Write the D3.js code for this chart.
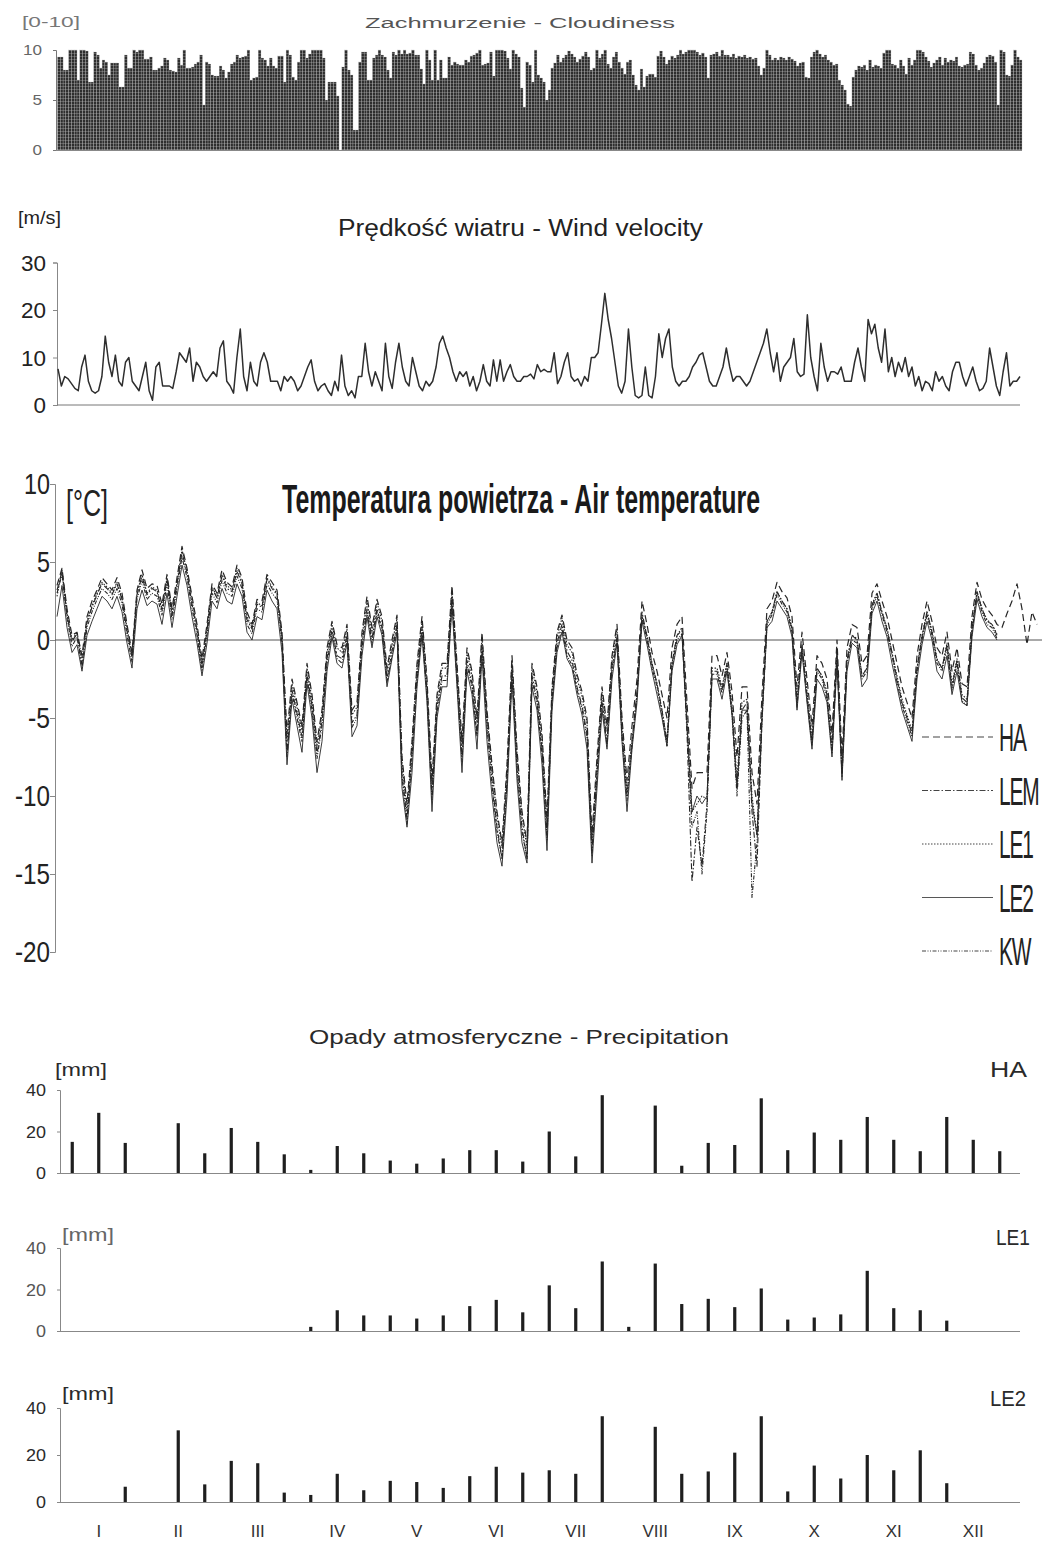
<!DOCTYPE html>
<html><head><meta charset="utf-8">
<script src="https://cdn.jsdelivr.net/npm/d3@7"></script>
<style>body{margin:0;background:#fff}svg{display:block;background:#fff}</style>
</head><body>
<svg id="chart" width="1049" height="1541"></svg>
<script>
// ---------------- DATA ----------------
const cloudTicks = [0, 5, 10];
const cloudiness = [
9.3,9.3,8.0,8.0,10,10,10,7,10,
10,9.9,6.8,6.8,9.8,9.5,8.2,9.0,8.8,7.5,
8.7,8.7,8.7,6.3,6.3,9.5,8.2,8.2,10,
9.8,10,10,9.1,9.1,9.3,8.0,8.0,8.2,8.4,
9.2,9.0,8.0,7.9,7.8,9.2,8.5,10,8.2,
8.2,8.3,8.6,8.8,9.5,4.5,8.8,8.6,7.5,
7.4,7.4,8.4,8.0,7.2,7.8,8.6,8.8,9.5,9.2,
9.3,9.4,10,7.0,7.2,7.3,10,9.2,9.0,8.4,
9.2,8.4,8.2,9.4,9.4,6.8,10,9.5,7.3,7.0,
8.8,10,10,9.2,9.6,10,10,10,10,9.2,
5.0,6.8,6.8,6.8,5.4,0,8.3,10,8.0,7.5,
2.0,2.0,8.8,9.8,9.8,7.0,7.0,9.2,9.5,10,
9.5,9.3,8.0,7.2,9.8,9.5,10,9.6,10,9.6,
9.7,10,9.5,9.5,8.1,6.6,10,9.0,7.0,10,
7.0,9.0,7.2,7.2,9.3,8.5,8.8,8.6,8.5,8.5,
9.0,8.8,9.4,
9.5,9.7,10,8.5,8.6,8.7,9.8,7.4,10,10,
10,9.9,9.2,8.1,10,9.6,9.3,6.2,
4.3,8.8,8.5,6.8,10,7.5,7.2,6.8,5.0,6.0,8.2,8.7,
9.5,8.8,9.2,9.5,9.9,9.6,9.3,8.8,9.1,9.4,9.8,9.3,
8.0,8.2,10,9.2,9.6,10,8.6,8.2,9.3,9.8,8.8,8.2,
7.6,8.8,9.0,7.5,6.5,6.0,8.1,6.3,7.4,7.6,7.6,7.3,
9.4,9.9,9.3,8.6,9.0,9.4,9.2,9.5,10,9.6,9.8,10,
10,10,9.8,9.5,9.7,9.3,7.2,9.5,9.6,9.8,9.4,10,
9.5,9.5,9.3,9.6,9.2,9.4,9.3,9.5,9.2,9.3,9.1,9.2,
8.4,7.5,8.2,10,9.5,9.0,9.2,9.0,9.3,9.2,9.0,9.3,
9.1,8.9,8.4,8.7,8.8,7.3,7.2,9.3,9.8,10,9.6,9.3,
9.5,9.0,8.8,8.5,8.6,7.0,6.5,6.0,4.6,4.4,7.3,8.0,
8.4,8.3,8.5,8.0,9.0,8.3,8.5,8.4,8.2,9.7,10,10,
8.6,8.5,8.2,9.0,8.4,7.6,9.2,8.5,9.0,10,10,9.8,
9.3,8.9,8.3,8.7,9.0,9.3,8.5,9.2,8.8,9.0,8.9,9.3,
8.4,8.3,8.5,8.6,9.8,9.6,8.5,8.0,8.2,8.7,9.3,9.5,
9.4,8.8,4.5,10,9.8,7.5,7.4,8.5,10,9.3,9.0
];

const windTicks = [0, 10, 20, 30];
const windSpeed = [
7.6,4,6,5.5,4.5,3.5,3,8,10.5,5,
3,2.5,3,6,14.5,9,6,10.5,5,4,
9,10,5,4,3,6,9,3,1,8,
9,4,4,4,3.5,7,11,10,9,12,
5,9,8,6,5,6,7,6,12,13.5,
5,4,2.5,10,16,6,3,9,5,4,
9,11,9,5,5,5,3,6,5,6,
5,3,4,6,8,9.5,5,3,4,4.5,
3,2,5,3,10.5,4,2,3,1.5,6,
6,13,7,4,7,5,3,13,6,3.5,
9,13,8,5,4,10,7,4,3,5,
4,5,8,13,14.5,12,10,7,5,7,
6,7,4,6,3,5,8.5,5,4,9.5,
5,9.5,5,7,8.5,6,5,5,6,6,
6.5,5.5,8.5,7,7.5,7,7,11,4.5,6,
9,11,6,5,5.5,4,6,5,10,10,
11,17,23.5,18,14,9,4,2.5,5,16,
8,2,1.5,2,8,2,1.5,6,15,10,
14,16,8,5,4,5,5,6,8,9,
10.5,11,8,5,4,4,6,8,12,8,
5,6,6,5,4,5,7,9,11,13,
16,11,7,11,5,8,9,10,14,7,
6,6.5,19,10,6,3,13,8,5,7,
7,6.5,8,5,5,5,9,12,8,5,
18,15,17,12,9,16,7,10,6,9,
7,10,6,8,4,6,3,5,4.5,3,
7,5,6,4,3,7,9,9,6,4,
6,8,5,3,3.5,5,12,8,4,2,
7,11,4,5,5,6
];

const tempTicks = [-20, -15, -10, -5, 0, 5, 10];
const tempStations = ["HA", "LEM", "LE1", "LE2", "KW"];
const tempHA = [
3.5,4.6,2,0.3,0.5,-1,1.5,2.5,3.2,4,
3.6,3.2,4,3,1,-0.8,3.2,4.5,3.3,3.6,
3.5,2.3,4.2,2,4,6,4.6,2.8,1,-1.2,
1,3.6,3,4.5,3.7,3.4,4.8,4,1.8,1,
2.6,2.5,4.2,3.7,3.2,0.5,-6,-2.5,-4,-5.5,
-1.5,-3.5,-6.5,-4.5,-0.5,1.2,-0.3,-0.5,1,-4.5,
-4,0.5,2.8,0.8,2.6,1.5,-1.8,0,1.6,-7.5,
-10.5,-6.5,-1.5,1.5,-2.5,-9,-3.5,-1.5,-1.5,3.5,
-1.5,-6.5,-0.5,-2,-5,0.5,-4.5,-8,-11,-13,
-8,-1,-7,-11,-13,-1.5,-3,-6,-11.5,-3,
0.5,1.6,0,-0.5,-2.2,-3.3,-5,-12.5,-7.5,-3,
-5.5,-1,1,-5,-9,-5.5,-2.5,2.5,1,-0.8,
-2,-3.5,-5,-0.5,1,1.5,-4,-9.5,-8.5,-8.5,
-8.5,-1,-1,-2.3,-0.8,-3.3,-7.5,-3,-3,-8.5,
-10.5,-3.5,2,2.5,3.7,3.1,2.7,1.5,-3,0.5,
-2.5,-5.5,-1,-1.5,-2.5,-6,0,-7.5,-0.5,1,
0.8,-1.5,-1,3,3.6,2.5,1.5,0,-1.5,-3,
-4,-5,-1,1,2.5,1.2,-0.5,-1,0.5,-2,
-0.5,-2.8,-3,1.5,3.7,2.6,2,1.6,1,
0.8,1.7,2.5,3.6,2,-0.3,1.8,1
];
const tempLEM = [
3.2,4.4,1.6,-0.1,0.4,-1.6,1.1,2.1,2.9,3.6,
3.3,2.9,3.6,2.6,0.6,-1.1,2.9,4.1,2.9,3.3,
3.1,1.9,3.9,1.6,3.6,5.6,4.3,2.3,0.6,-1.7,
0.6,3.3,2.7,4.1,3.3,3.1,4.4,3.6,1.3,0.7,
2.3,2.1,3.9,3.3,2.9,0.1,-7.2,-3.2,-4.7,-6.2,
-2.2,-4.2,-7.3,-5.2,-1.2,0.7,-1,-1.2,0.3,-5.3,
-4.8,-0.2,2,0.1,2,0.8,-2.5,-0.7,1,-8.5,
-11.5,-7.3,-2.3,0.8,-3.3,-10,-4.3,-2.3,-2.3,2.8,
-2.3,-7.5,-1.3,-2.8,-6,-0.3,-5.3,-9,-12,-14,
-9,-1.8,-8,-12,-14,-2.3,-3.8,-7,-12.5,-3.8,
-0.2,1,-0.7,-1.3,-3,-4.2,-6,-13.5,-8.5,-3.8,
-6.5,-1.8,0.2,-6,-10,-6.5,-3.3,1.8,0.2,-1.5,
-2.8,-4.5,-6.5,-1.5,0.3,0.6,-6,-15.5,-12,-14.5,
-10.5,-2,-2,-3.2,-1.5,-4.5,-9.5,-4.5,-4,-11,
-14.5,-5,1.2,1.8,3.1,2.5,2,0.7,-4,-0.3,
-3.5,-6.5,-1.8,-2.3,-3.5,-7,-0.8,-8.5,-1.3,0.3,
0,-2.3,-1.8,2.2,3,1.8,0.7,-0.8,-2.5,-4,
-5,-6,-1.8,0.2,1.8,0.5,-1.3,-1.8,-0.3,-3,
-1.3,-3.7,-4,0.7,3.1,2,1.2,1,0.3
];
const tempLE1 = [
2.8,4.5,1.8,0,0.5,-1.2,1.2,2.2,3,3.7,
3.4,3,3.7,2.7,0.8,-1,3,4.2,3,3.4,
3.2,2,4,1.7,3.7,5.8,4.4,2.5,0.8,-1.5,
0.7,3.4,2.8,4.2,3.5,3.2,4.6,3.7,1.5,0.8,
2.4,2.2,4,3.4,3,0.2,-6.5,-2.8,-4.3,-5.8,
-1.8,-3.8,-6.8,-4.8,-0.8,1,-0.5,-0.8,0.7,-4.8,
-4.3,0.2,2.5,0.5,2.4,1.2,-2,-0.3,1.4,-7.8,
-11,-6.8,-1.8,1.2,-2.8,-9.3,-3.8,-1.8,-1.8,3.2,
-1.8,-6.8,-0.8,-2.3,-5.3,0.2,-4.8,-8.3,-11.3,-13.3,
-8.3,-1.3,-7.3,-11.3,-13.3,-1.8,-3.3,-6.3,-11.8,-3.3,
0.2,1.4,-0.3,-0.8,-2.5,-3.6,-5.3,-13,-8,-3.3,
-5.8,-1.3,0.7,-5.3,-9.8,-6.5,-3.5,1.5,0.3,-1.5,
-2.8,-4.5,-6.5,-1.5,0.3,0.8,-5,-11,-10.5,-10,
-10.2,-1.8,-1.8,-3,-1.5,-4.2,-9,-4,-3.8,-10,
-12.5,-4.5,1.2,1.8,3.1,2.5,2,0.8,-3.8,-0.3,
-3.3,-6.3,-1.8,-2.3,-3.3,-6.8,-0.8,-8.3,-1.3,0.3,
0.1,-2.3,-1.8,2.3,3,1.8,0.8,-0.8,-2.3,-3.8,
-4.8,-5.8,-1.8,0.3,1.8,0.6,-1.2,-1.8,-0.2,-2.8,
-1.2,-3.5,-3.8,0.8,3.1,2,1.3,1,0.4
];
const tempLE2 = [
1.5,3.5,0.8,-0.8,-0.3,-2,0.3,1.2,2,2.8,
2.5,2,2.8,1.8,-0.2,-1.8,2,3.2,2.2,2.5,
2.3,1,3,0.8,2.8,4.8,3.5,1.5,-0.2,-2.3,
-0.2,2.5,2,3.3,2.5,2.3,3.6,2.8,0.5,0,
1.5,1.3,3.2,2.5,2,-0.8,-8,-3.8,-5.5,-7.2,
-2.8,-5,-8.5,-6.5,-2,0.2,-1.5,-1.8,-0.2,-6.2,
-5.5,-1,1.5,-0.5,1.5,0.3,-3,-1.2,0.5,-9.5,
-12,-8.5,-3,0.3,-4,-11,-5,-3,-3,2.2,
-3,-8.5,-2,-3.5,-7,-1,-6.5,-10,-13,-14.5,
-10,-2.5,-9,-13,-14.3,-3,-4.5,-8,-13.5,-4.5,
-0.8,0.5,-1.2,-1.8,-3.5,-4.8,-7,-14.3,-9.5,-4.5,
-7,-2.5,-0.2,-6.5,-11,-7,-4,1.2,-0.3,-2,
-3.5,-5,-6.8,-2,-0.3,0.3,-5.5,-11,-10,-10.5,
-10,-2.5,-2.5,-3.8,-2,-4.8,-9.5,-4.5,-4.5,-10.5,
-12.5,-5,0.8,1.2,2.5,2,1.5,0.2,-4.5,-0.8,
-4,-7,-2.5,-3,-4,-7.5,-1.5,-9,-2,-0.2,
-0.5,-3,-2.5,1.7,2.5,1.2,0.2,-1.5,-3,-4.5,
-5.5,-6.5,-2.5,-0.3,1.2,0,-2,-2.5,-1,-3.5,
-2,-4,-4.2,0.2,2.6,1.5,0.8,0.5,0
];
const tempKW = [
3,4.2,1.4,-0.4,0.2,-1.8,0.8,1.8,2.6,3.3,
3,2.6,3.3,2.3,0.3,-1.4,2.6,3.8,2.6,3,
2.8,1.6,3.6,1.3,3.3,5.3,4,2,0.3,-2,
0.3,3,2.4,3.8,3,2.8,4.1,3.3,1,0.4,
2,1.8,3.6,3,2.6,-0.2,-7.5,-3.4,-5,-6.5,
-2.4,-4.5,-7.6,-5.5,-1.5,0.5,-1.2,-1.5,0,-5.6,
-5,-0.5,1.8,-0.2,1.8,0.6,-2.7,-1,0.8,-8.8,
-11.8,-7.6,-2.6,0.5,-3.6,-10.3,-4.6,-2.6,-2.6,2.5,
-2.6,-7.8,-1.6,-3,-6.2,-0.6,-5.6,-9.3,-12.3,-14,
-9.3,-2,-8.3,-12.3,-14,-2.6,-4,-7.3,-12.8,-4,
-0.5,0.7,-1,-1.6,-3.2,-4.4,-6.3,-13.8,-8.8,-4,
-6.8,-2,0,-6.3,-10.3,-6.8,-3.6,1.5,0,-1.8,
-3,-4.8,-6.8,-1.8,0,0.4,-5.5,-12,-11,-15,
-11,-2.2,-2.2,-3.4,-1.8,-4.8,-10,-5,-4.5,-16.5,
-13,-5.3,1,1.6,2.9,2.3,1.8,0.5,-4.3,-0.5,
-3.8,-6.8,-2,-2.5,-3.8,-7.3,-1,-8.8,-1.5,0,
-0.2,-2.5,-2,2,2.8,1.6,0.5,-1,-2.7,-4.2,
-5.2,-6.2,-2,0,1.6,0.3,-1.5,-2,-0.5,-3.2,
-1.5,-3.9,-4.2,0.5,2.9,1.8,1,0.8,0.1
];

const precipTicks = [0, 20, 40];
const monthLabels = ["I","II","III","IV","V","VI","VII","VIII","IX","X","XI","XII"];
const precipHA = [15,29,14.5,0,24,9.5,21.7,15,9,1.5,13,9.5,6,4.5,7,11,11,5.5,20,8,37.5,0,32.5,3.5,14.5,13.5,36,11,19.5,16,27,16,10.5,27,16,10.5];
const precipLE1 = [0,0,0,0,0,0,0,0,0,2,10,7.5,7.5,6,7.5,12,15,9,22,11,33.5,2,32.5,13,15.5,11.5,20.5,5.5,6.5,8,29,11,10,5,0,0];
const precipLE2 = [0,0,6.5,0,30.5,7.5,17.5,16.5,4,3,12,5,9,8.5,6,11,15,12.5,13.5,12,36.5,0,32,12,13,21,36.5,4.5,15.5,10,20,13.5,22,8,0,0];

// ---------------- DRAWING ----------------
const svg = d3.select("#chart");
const FONT = "'Liberation Sans', Arial, Helvetica, sans-serif";

function label(x, y, s, size, o = {}) {
  const t = svg.append("text")
    .attr("x", x).attr("y", y).text(s)
    .attr("font-family", o.family || FONT)
    .attr("font-size", size)
    .attr("font-weight", o.weight || "normal")
    .attr("fill", o.fill || "#2a2a2a")
    .attr("text-anchor", o.anchor || "start");
  if (o.len) t.attr("textLength", o.len).attr("lengthAdjust", "spacingAndGlyphs");
  if (o.ls) t.attr("letter-spacing", o.ls);
  return t;
}

// hatch pattern for cloudiness bars
const defs = svg.append("defs");
const pat = defs.append("pattern").attr("id", "hatch")
  .attr("patternUnits", "userSpaceOnUse").attr("width", 6).attr("height", 3);
pat.append("rect").attr("width", 6).attr("height", 3).attr("fill", "#2e2e2e");
pat.append("line").attr("x1", 0).attr("x2", 6).attr("y1", 2.5).attr("y2", 2.5)
  .attr("stroke", "#7a7a7a").attr("stroke-width", 0.6);

// ===== Cloudiness =====
{
  const x = d3.scaleBand().domain(d3.range(cloudiness.length)).range([57.5, 1022]).padding(0);
  const y = d3.scaleLinear().domain([0, 10]).range([150, 50]);
  svg.append("g").selectAll("rect").data(cloudiness).join("rect")
    .attr("x", (d, i) => x(i)).attr("width", x.bandwidth())
    .attr("y", d => y(d)).attr("height", d => y(0) - y(d))
    .attr("fill", "url(#hatch)").attr("stroke", "#b5b5b5").attr("stroke-width", 0.3);
  const ax = svg.append("g").attr("transform", "translate(56,0)")
    .call(d3.axisLeft(y).tickValues(cloudTicks).tickSize(3).tickFormat(""));
  ax.select(".domain").attr("stroke", "#777");
  ax.selectAll(".tick line").attr("stroke", "#777");
  cloudTicks.forEach(v => label(42, y(v) + 5, String(v), 15, {anchor: "end", fill: "#666", len: String(v).length * 9.5}));
  svg.append("line").attr("x1", 56).attr("x2", 1022).attr("y1", 150.5).attr("y2", 150.5).attr("stroke", "#888");
  label(22, 27, "[0-10]", 14, {fill: "#777", len: 58});
  label(365, 28, "Zachmurzenie - Cloudiness", 14, {fill: "#555", len: 310});
}

// ===== Wind velocity =====
{
  const x = d3.scaleLinear().domain([0, windSpeed.length - 1]).range([58, 1020]);
  const y = d3.scaleLinear().domain([0, 30]).range([405, 262.5]);
  const ax = svg.append("g").attr("transform", "translate(57,0)")
    .call(d3.axisLeft(y).tickValues(windTicks).tickSize(4).tickFormat(""));
  ax.select(".domain").attr("stroke", "#888");
  ax.selectAll(".tick line").attr("stroke", "#888");
  svg.append("line").attr("x1", 57).attr("x2", 1020).attr("y1", 405).attr("y2", 405).attr("stroke", "#777");
  windTicks.forEach(v => label(46, y(v) + 8, String(v), 22, {anchor: "end", fill: "#222", len: String(v).length * 12.5}));
  svg.append("path").datum(windSpeed)
    .attr("d", d3.line().x((d, i) => x(i)).y(d => y(d)))
    .attr("fill", "none").attr("stroke", "#2e2e2e").attr("stroke-width", 1.5).attr("stroke-linejoin", "round");
  label(18, 224, "[m/s]", 18, {len: 43, fill: "#222"});
  label(338, 236, "Prędkość wiatru - Wind velocity", 23, {len: 365, fill: "#222"});
}

// ===== Air temperature =====
{
  const y = d3.scaleLinear().domain([-20, 10]).range([952, 484]);
  const x = d3.scaleLinear().domain([0, tempHA.length - 1]).range([57, 1037]);
  const ax = svg.append("g").attr("transform", "translate(55,0)")
    .call(d3.axisLeft(y).tickValues(tempTicks).tickSize(5).tickFormat(""));
  ax.select(".domain").attr("stroke", "#888");
  ax.selectAll(".tick line").attr("stroke", "#888");
  svg.append("line").attr("x1", 55).attr("x2", 1042).attr("y1", y(0)).attr("y2", y(0)).attr("stroke", "#555").attr("stroke-width", 1);
  tempTicks.forEach(v => {
    const digits = String(Math.abs(v)).length;
    label(50, y(v) + 10, String(v), 29, {anchor: "end", fill: "#222", len: digits * 13 + (v < 0 ? 9 : 0)});
  });
  const series = [
    {name: "HA", data: tempHA, dash: "7,4", w: 1.2},
    {name: "LEM", data: tempLEM, dash: "6,2,1.5,2", w: 1.1},
    {name: "LE1", data: tempLE1, dash: "1.5,1.5", w: 1.1},
    {name: "LE2", data: tempLE2, dash: null, w: 0.9},
    {name: "KW", data: tempKW, dash: "4,1.5,1,1.5,1,1.5", w: 1.1}
  ];
  const line = d3.line().x((d, i) => x(i)).y(d => y(d));
  series.forEach(s => {
    svg.append("path").datum(s.data).attr("d", line)
      .attr("fill", "none").attr("stroke", "#262626").attr("stroke-width", s.w)
      .attr("stroke-dasharray", s.dash).attr("stroke-linejoin", "round");
  });
  // legend (labels condensed with a horizontal scale so their boxes stay inside the page)
  const legY = d3.scalePoint().domain(tempStations).range([737, 951]);
  series.forEach(s => {
    svg.append("line").attr("x1", 922).attr("x2", 993).attr("y1", legY(s.name)).attr("y2", legY(s.name))
      .attr("stroke", "#444").attr("stroke-width", s.w).attr("stroke-dasharray", s.dash);
    svg.append("text")
      .attr("transform", `translate(999,${legY(s.name) + 14}) scale(0.55,1)`)
      .attr("font-family", FONT).attr("font-size", 38).attr("fill", "#222")
      .attr("letter-spacing", -2)
      .text(s.name);
  });
  label(66, 516, "[°C]", 36, {fill: "#222", len: 42});
  label(282, 513, "Temperatura powietrza - Air temperature", 40, {weight: "bold", fill: "#1a1a1a", len: 478});
}

// ===== Precipitation =====
{
  const x = d3.scaleBand().domain(d3.range(36)).range([59, 1013]);
  const panels = [
    {name: "HA", data: precipHA, top: 1090, bottom: 1173, unitY: 1076, unitFill: "#2a2a2a", nameY: 1077, nameX: 990, nameLen: 37, unitLen: 52, unitX: 55},
    {name: "LE1", data: precipLE1, top: 1248, bottom: 1331, unitY: 1241, unitFill: "#666", nameY: 1245, nameX: 996, nameLen: 34, unitLen: 52, unitX: 62},
    {name: "LE2", data: precipLE2, top: 1408, bottom: 1502, unitY: 1400, unitFill: "#2a2a2a", nameY: 1406, nameX: 990, nameLen: 36, unitLen: 52, unitX: 62}
  ];
  panels.forEach(p => {
    const y = d3.scaleLinear().domain([0, 40]).range([p.bottom, p.top]);
    const ax = svg.append("g").attr("transform", "translate(60,0)")
      .call(d3.axisLeft(y).tickValues(precipTicks).tickSize(3).tickFormat(""));
    ax.select(".domain").attr("stroke", "#888");
    ax.selectAll(".tick line").attr("stroke", "#888");
    svg.append("line").attr("x1", 60).attr("x2", 1020).attr("y1", p.bottom + 0.5).attr("y2", p.bottom + 0.5).attr("stroke", "#888");
    precipTicks.forEach(v => label(46, y(v) + 6, String(v), 17, {anchor: "end", fill: p.name === "LE1" ? "#555" : "#2a2a2a", len: String(v).length * 10}));
    svg.append("g").selectAll("rect").data(p.data).join("rect")
      .attr("x", (d, i) => x(i) + x.bandwidth() / 2 - 1.6).attr("width", 3.2)
      .attr("y", d => y(d)).attr("height", d => y(0) - y(d))
      .attr("fill", "#1e1e1e");
    label(p.unitX, p.unitY, "[mm]", 18, {fill: p.unitFill, len: p.unitLen});
    label(p.nameX, p.nameY, p.name, 22, {fill: "#2a2a2a", len: p.nameLen});
  });
  label(309, 1044, "Opady atmosferyczne - Precipitation", 20, {len: 420});
  monthLabels.forEach((m, i) => {
    label(x(i * 3 + 1) + x.bandwidth() / 2, 1537, m, 17, {anchor: "middle", fill: "#333"});
  });
}
</script>
</body></html>
